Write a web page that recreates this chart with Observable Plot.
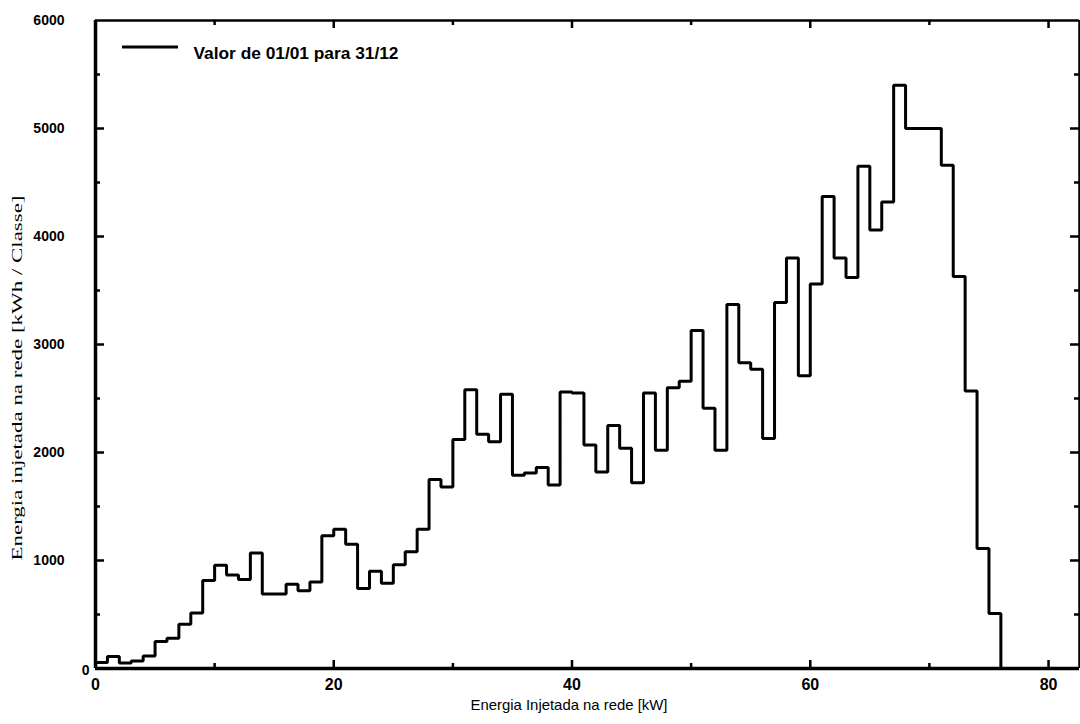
<!DOCTYPE html>
<html><head><meta charset="utf-8">
<script src="https://cdn.jsdelivr.net/npm/d3@7"></script>
<script src="https://cdn.jsdelivr.net/npm/@observablehq/plot@0.6"></script>
<style>body{margin:0;background:#fff} #chart{width:1080px;height:724px}</style>
</head><body><div id="chart"></div>
<script>
// Class start (kW) and energy per class (kWh); final point closes the step to zero
const classStart = [0,1,2,3,4,5,6,7,8,9,10,11,12,13,14,15,16,17,18,19,20,21,22,23,24,25,26,27,28,29,30,31,32,33,34,35,36,37,38,39,40,41,42,43,44,45,46,47,48,49,50,51,52,53,54,55,56,57,58,59,60,61,62,63,64,65,66,67,68,69,70,71,72,73,74,75,76];
const energy = [55,110,50,70,115,250,280,410,515,815,955,865,825,1070,690,690,780,720,800,1230,1290,1150,740,900,790,960,1080,1290,1750,1680,2120,2580,2170,2100,2540,1790,1810,1860,1700,2560,2550,2070,1820,2250,2040,1720,2550,2020,2600,2660,3130,2410,2020,3370,2830,2770,2130,3390,3800,2710,3560,4370,3800,3620,4650,4060,4320,5400,5000,5000,5000,4660,3630,2570,1110,510,0];
const xTicksMajor = [0,20,40,60,80];
const xTicksInner = [20,40,60,80];
const xTicksMinor = [10,30,50,70];
const yTicksLabelled = [1000,2000,3000,4000,5000,6000];
const yTickZero = [0];
const yTicksMajor = [1000,2000,3000,4000,5000];
const yTicksMinor = [500,1500,2500,3500,4500,5500];
const legendLabel = "Valor de 01/01 para 31/12";
const xTitle = "Energia Injetada na rede [kW]";
const yTitle = "Energia injetada na rede [kWh / Classe]";
const xMax = 82.6, yMax = 6000;

const W = 1080, H = 724, mL = 95, mR = 1, mT = 20, mB = 56;
const fw = W - mL - mR, fh = H - mT - mB;
// convert a tick length in pixels to data units
const px2x = (p) => p * xMax / fw;
const px2y = (p) => p * yMax / fh;

const data = classStart.map((x, i) => ({x, y: energy[i]}));
const font = "'Liberation Sans', Arial, sans-serif";
const fmt = d3.format("d");
const tk = {stroke: "#000", strokeWidth: 2.5};

const chart = Plot.plot({
  width: W, height: H,
  marginLeft: mL, marginRight: mR, marginTop: mT, marginBottom: mB,
  style: {fontFamily: font, fontSize: "14px", fontWeight: "bold", background: "#fff", color: "#000", overflow: "visible"},
  x: {domain: [0, xMax]},
  y: {domain: [0, yMax]},
  marks: [
    // tick labels
    Plot.axisX(xTicksMajor, {anchor: "bottom", tickSize: 0, tickPadding: 10, label: null, stroke: "none", tickFormat: fmt, fontSize: 16}),
    Plot.axisY(yTicksLabelled, {anchor: "left", tickSize: 0, tickPadding: 31, label: null, stroke: "none", tickFormat: fmt}),
    Plot.axisY(yTickZero, {anchor: "left", tickSize: 0, tickPadding: 6, dy: 2, label: null, stroke: "none", tickFormat: fmt}),
    // inward tick marks on all four sides
    Plot.ruleX(xTicksInner, {x: d => d, y1: 0, y2: px2y(8), ...tk}),
    Plot.ruleX(xTicksMinor, {x: d => d, y1: 0, y2: px2y(5), ...tk}),
    Plot.ruleX(xTicksInner, {x: d => d, y1: yMax, y2: yMax - px2y(8), ...tk}),
    Plot.ruleX(xTicksMinor, {x: d => d, y1: yMax, y2: yMax - px2y(5), ...tk}),
    Plot.ruleY(yTicksMajor, {y: d => d, x1: 0, x2: px2x(9), ...tk}),
    Plot.ruleY(yTicksMinor, {y: d => d, x1: 0, x2: px2x(5), ...tk}),
    Plot.ruleY(yTicksMajor, {y: d => d, x1: xMax, x2: xMax - px2x(9), ...tk}),
    Plot.ruleY(yTicksMinor, {y: d => d, x1: xMax, x2: xMax - px2x(5), ...tk}),
    // frame
    Plot.ruleX([0], {strokeWidth: 3.5}),
    Plot.ruleY([0], {strokeWidth: 3.5}),
    Plot.ruleY([yMax], {strokeWidth: 2.5}),
    Plot.ruleX([xMax], {strokeWidth: 2.5}),
    // data
    Plot.line(data, {x: "x", y: "y", curve: "step-after", stroke: "#000", strokeWidth: 3, strokeLinejoin: "miter"}),
    // legend label
    Plot.text([legendLabel], {frameAnchor: "top-left", dx: 98, dy: 27, textAnchor: "start", fontSize: 16, fontWeight: "bold"}),
    // axis titles
    Plot.text([xTitle], {frameAnchor: "bottom", dx: -117, dy: 41, textAnchor: "start", fontSize: 15, fontWeight: "normal"}),
    Plot.text([yTitle], {frameAnchor: "left", dx: -78, dy: 216, rotate: -90, textAnchor: "start", fontSize: 14, fontWeight: "normal", fontFamily: "'Liberation Serif', serif"})
  ]
});
document.getElementById("chart").appendChild(chart);

const svg = d3.select(chart);
// stretch titles and legend text to the reference widths
svg.selectAll("text").filter(function() { return this.textContent === yTitle; })
  .attr("textLength", 365).attr("lengthAdjust", "spacingAndGlyphs");
svg.selectAll("text").filter(function() { return this.textContent === xTitle; })
  .attr("textLength", 197).attr("lengthAdjust", "spacingAndGlyphs");
svg.selectAll("text").filter(function() { return this.textContent === legendLabel; })
  .attr("textLength", 205).attr("lengthAdjust", "spacingAndGlyphs");
// legend line sample
svg.append("line").attr("x1", 122).attr("x2", 178).attr("y1", 47).attr("y2", 47)
  .attr("stroke", "#000").attr("stroke-width", 3);
</script>
</body></html>
